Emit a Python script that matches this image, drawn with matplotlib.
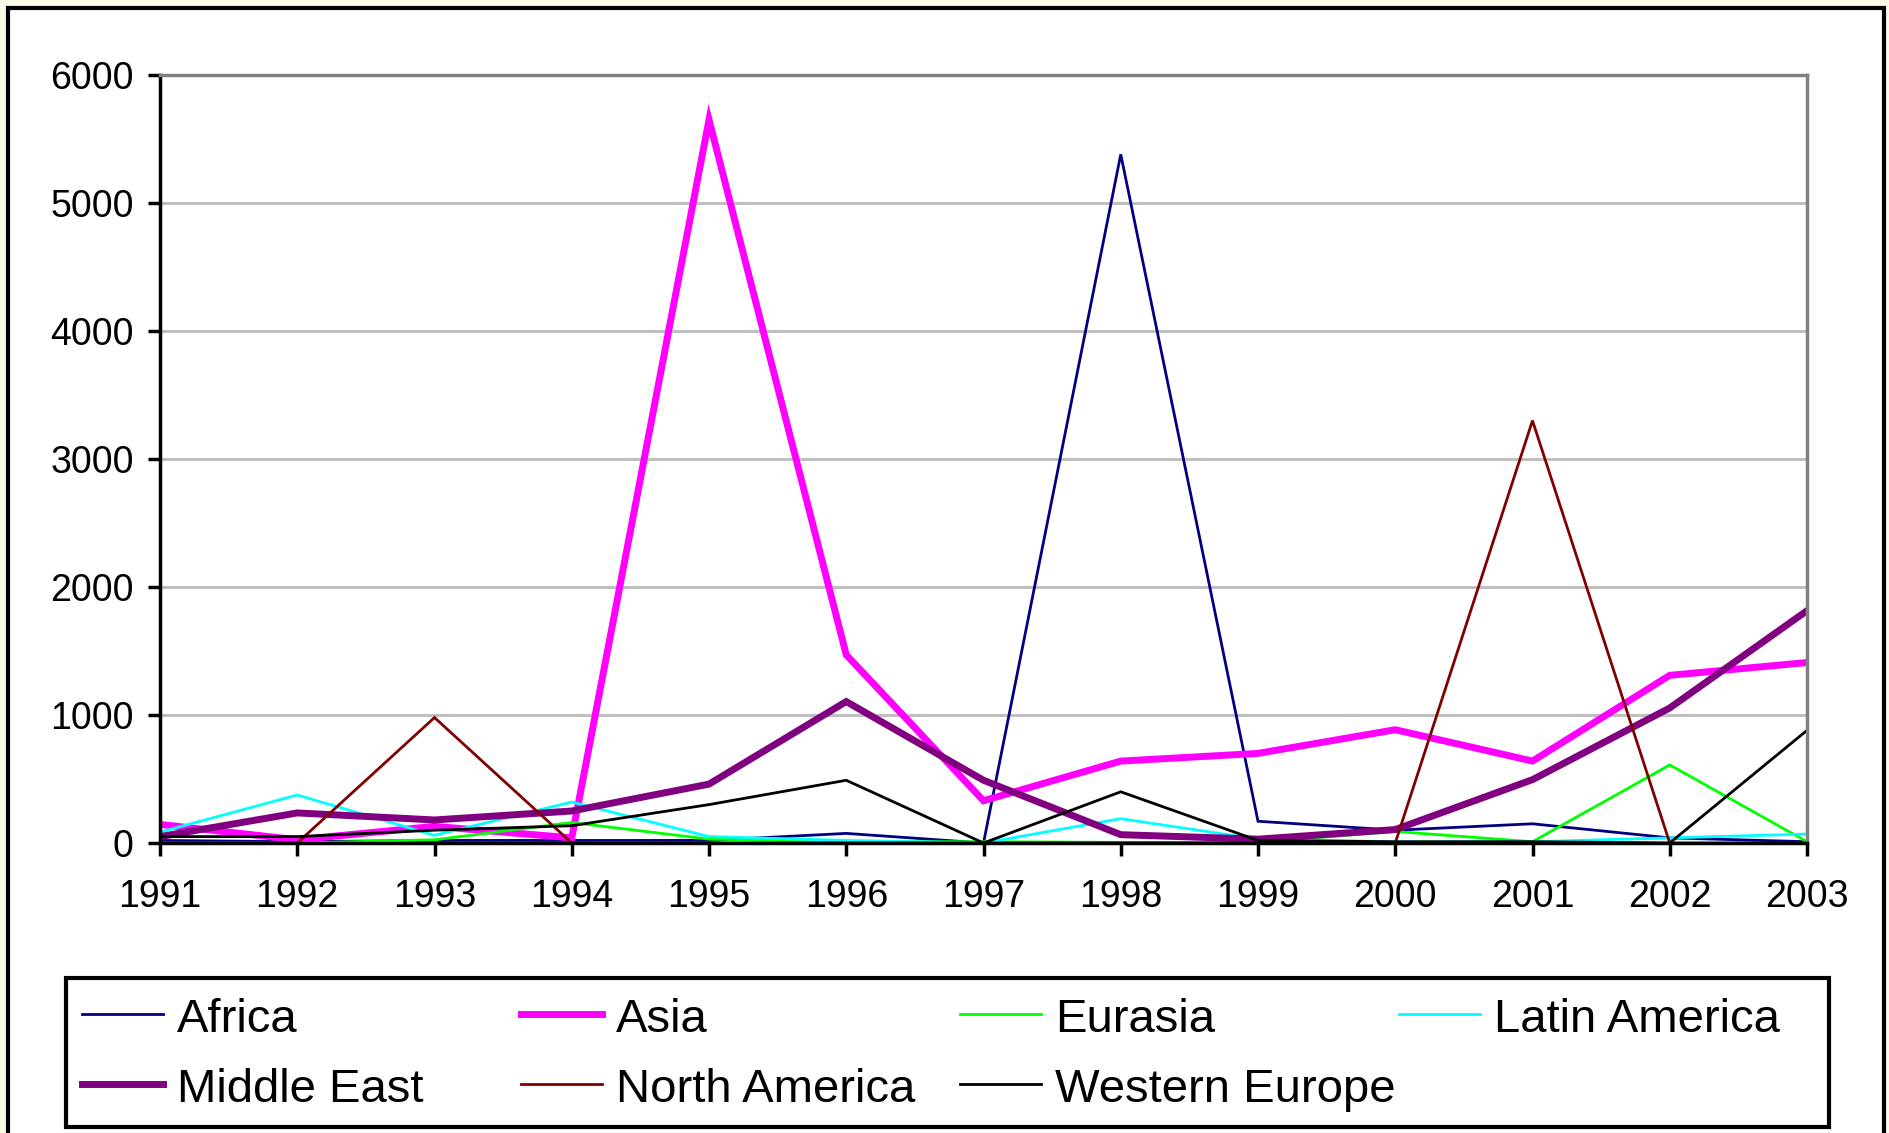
import matplotlib
matplotlib.use("Agg")
import matplotlib.pyplot as plt
from matplotlib.lines import Line2D
from matplotlib.patches import Rectangle

# values
years = [1991, 1992, 1993, 1994, 1995, 1996, 1997, 1998, 1999, 2000, 2001, 2002, 2003]

africa = [20, 10, 20, 20, 20, 75, 0, 5380, 170, 100, 150, 40, 10]
asia = [145, 25, 130, 40, 5650, 1470, 330, 640, 700, 885, 640, 1310, 1410]
eurasia = [0, 0, 25, 160, 30, 10, 10, 5, 5, 90, 10, 610, 10]
latin_america = [85, 375, 60, 320, 50, 20, 0, 190, 30, 10, 10, 40, 70]
middle_east = [50, 235, 180, 250, 460, 1105, 490, 65, 30, 105, 495, 1055, 1815]
north_america = [0, 0, 980, 0, 0, 0, 0, 0, 0, 0, 3300, 0, 0]
western_europe = [50, 50, 100, 135, 300, 490, 0, 400, 20, 10, 10, 0, 880]

series = [
    ("Africa", africa, "#000080", 2.0),
    ("Asia", asia, "#ff00ff", 5.0),
    ("Eurasia", eurasia, "#00ff00", 2.0),
    ("Latin America", latin_america, "#00ffff", 2.0),
    ("Middle East", middle_east, "#800080", 5.0),
    ("North America", north_america, "#800000", 2.0),
    ("Western Europe", western_europe, "#000000", 2.0),
]

W, H = 1889, 1133
plt.rcParams["font.family"] = ["Liberation Sans", "DejaVu Sans"]

fig = plt.figure(figsize=(W / 100, H / 100), dpi=100, facecolor="#fcfce6")


def fx(px):
    return px / W


def fy(py):
    return 1 - py / H


# outer chart frame (bottom edge is cropped off in the reference)
frame = Rectangle((fx(8), -0.05), fx(1884 - 8), (H - 8) / H + 0.05,
                  transform=fig.transFigure, facecolor="white",
                  edgecolor="black", linewidth=3, zorder=-5)
fig.patches.append(frame)

ax = fig.add_axes([fx(160), fy(843), fx(1807 - 160), (843 - 75) / H])
ax.set_facecolor("white")
ax.set_zorder(1)

for name, vals, color, lw in series:
    ax.plot(years, vals, color=color, linewidth=lw, label=name,
            solid_joinstyle="miter")

ax.set_xlim(1991, 2003)
ax.set_ylim(0, 6000)
ax.set_xticks(years)
ax.set_xticklabels([str(y) for y in years])
ax.set_yticks(range(0, 6001, 1000))
ax.yaxis.grid(True, color="#c0c0c0", linewidth=2.2)
ax.set_axisbelow(True)

for side in ("left", "bottom"):
    ax.spines[side].set_color("black")
    ax.spines[side].set_linewidth(2.5)
for side in ("top", "right"):
    ax.spines[side].set_color("#808080")
    ax.spines[side].set_linewidth(2.5)

ax.tick_params(axis="both", direction="out", length=9, width=2.5,
               labelsize=27, color="black")
ax.tick_params(axis="y", pad=10)
ax.tick_params(axis="x", pad=17)

# legend: boxed, 4 evenly spaced columns filled row by row
fig.patches.append(Rectangle((fx(66), fy(1127)), fx(1829 - 66), (1127 - 978) / H,
                             transform=fig.transFigure, facecolor="white",
                             edgecolor="black", linewidth=3, zorder=2))
col_x = [82, 521, 960, 1399]
row_y = [1014, 1084]
for i, (name, vals, color, lw) in enumerate(series):
    x0 = col_x[i % 4]
    y0 = row_y[i // 4]
    fig.lines.append(Line2D([fx(x0), fx(x0 + 81)], [fy(y0), fy(y0)],
                            transform=fig.transFigure, color=color,
                            linewidth=lw, zorder=3))
    fig.text(fx(x0 + 95), fy(y0 + 18), name, fontsize=34, color="black",
             ha="left", va="baseline", zorder=3)

fig.savefig("out.png", dpi=100, facecolor=fig.get_facecolor())
